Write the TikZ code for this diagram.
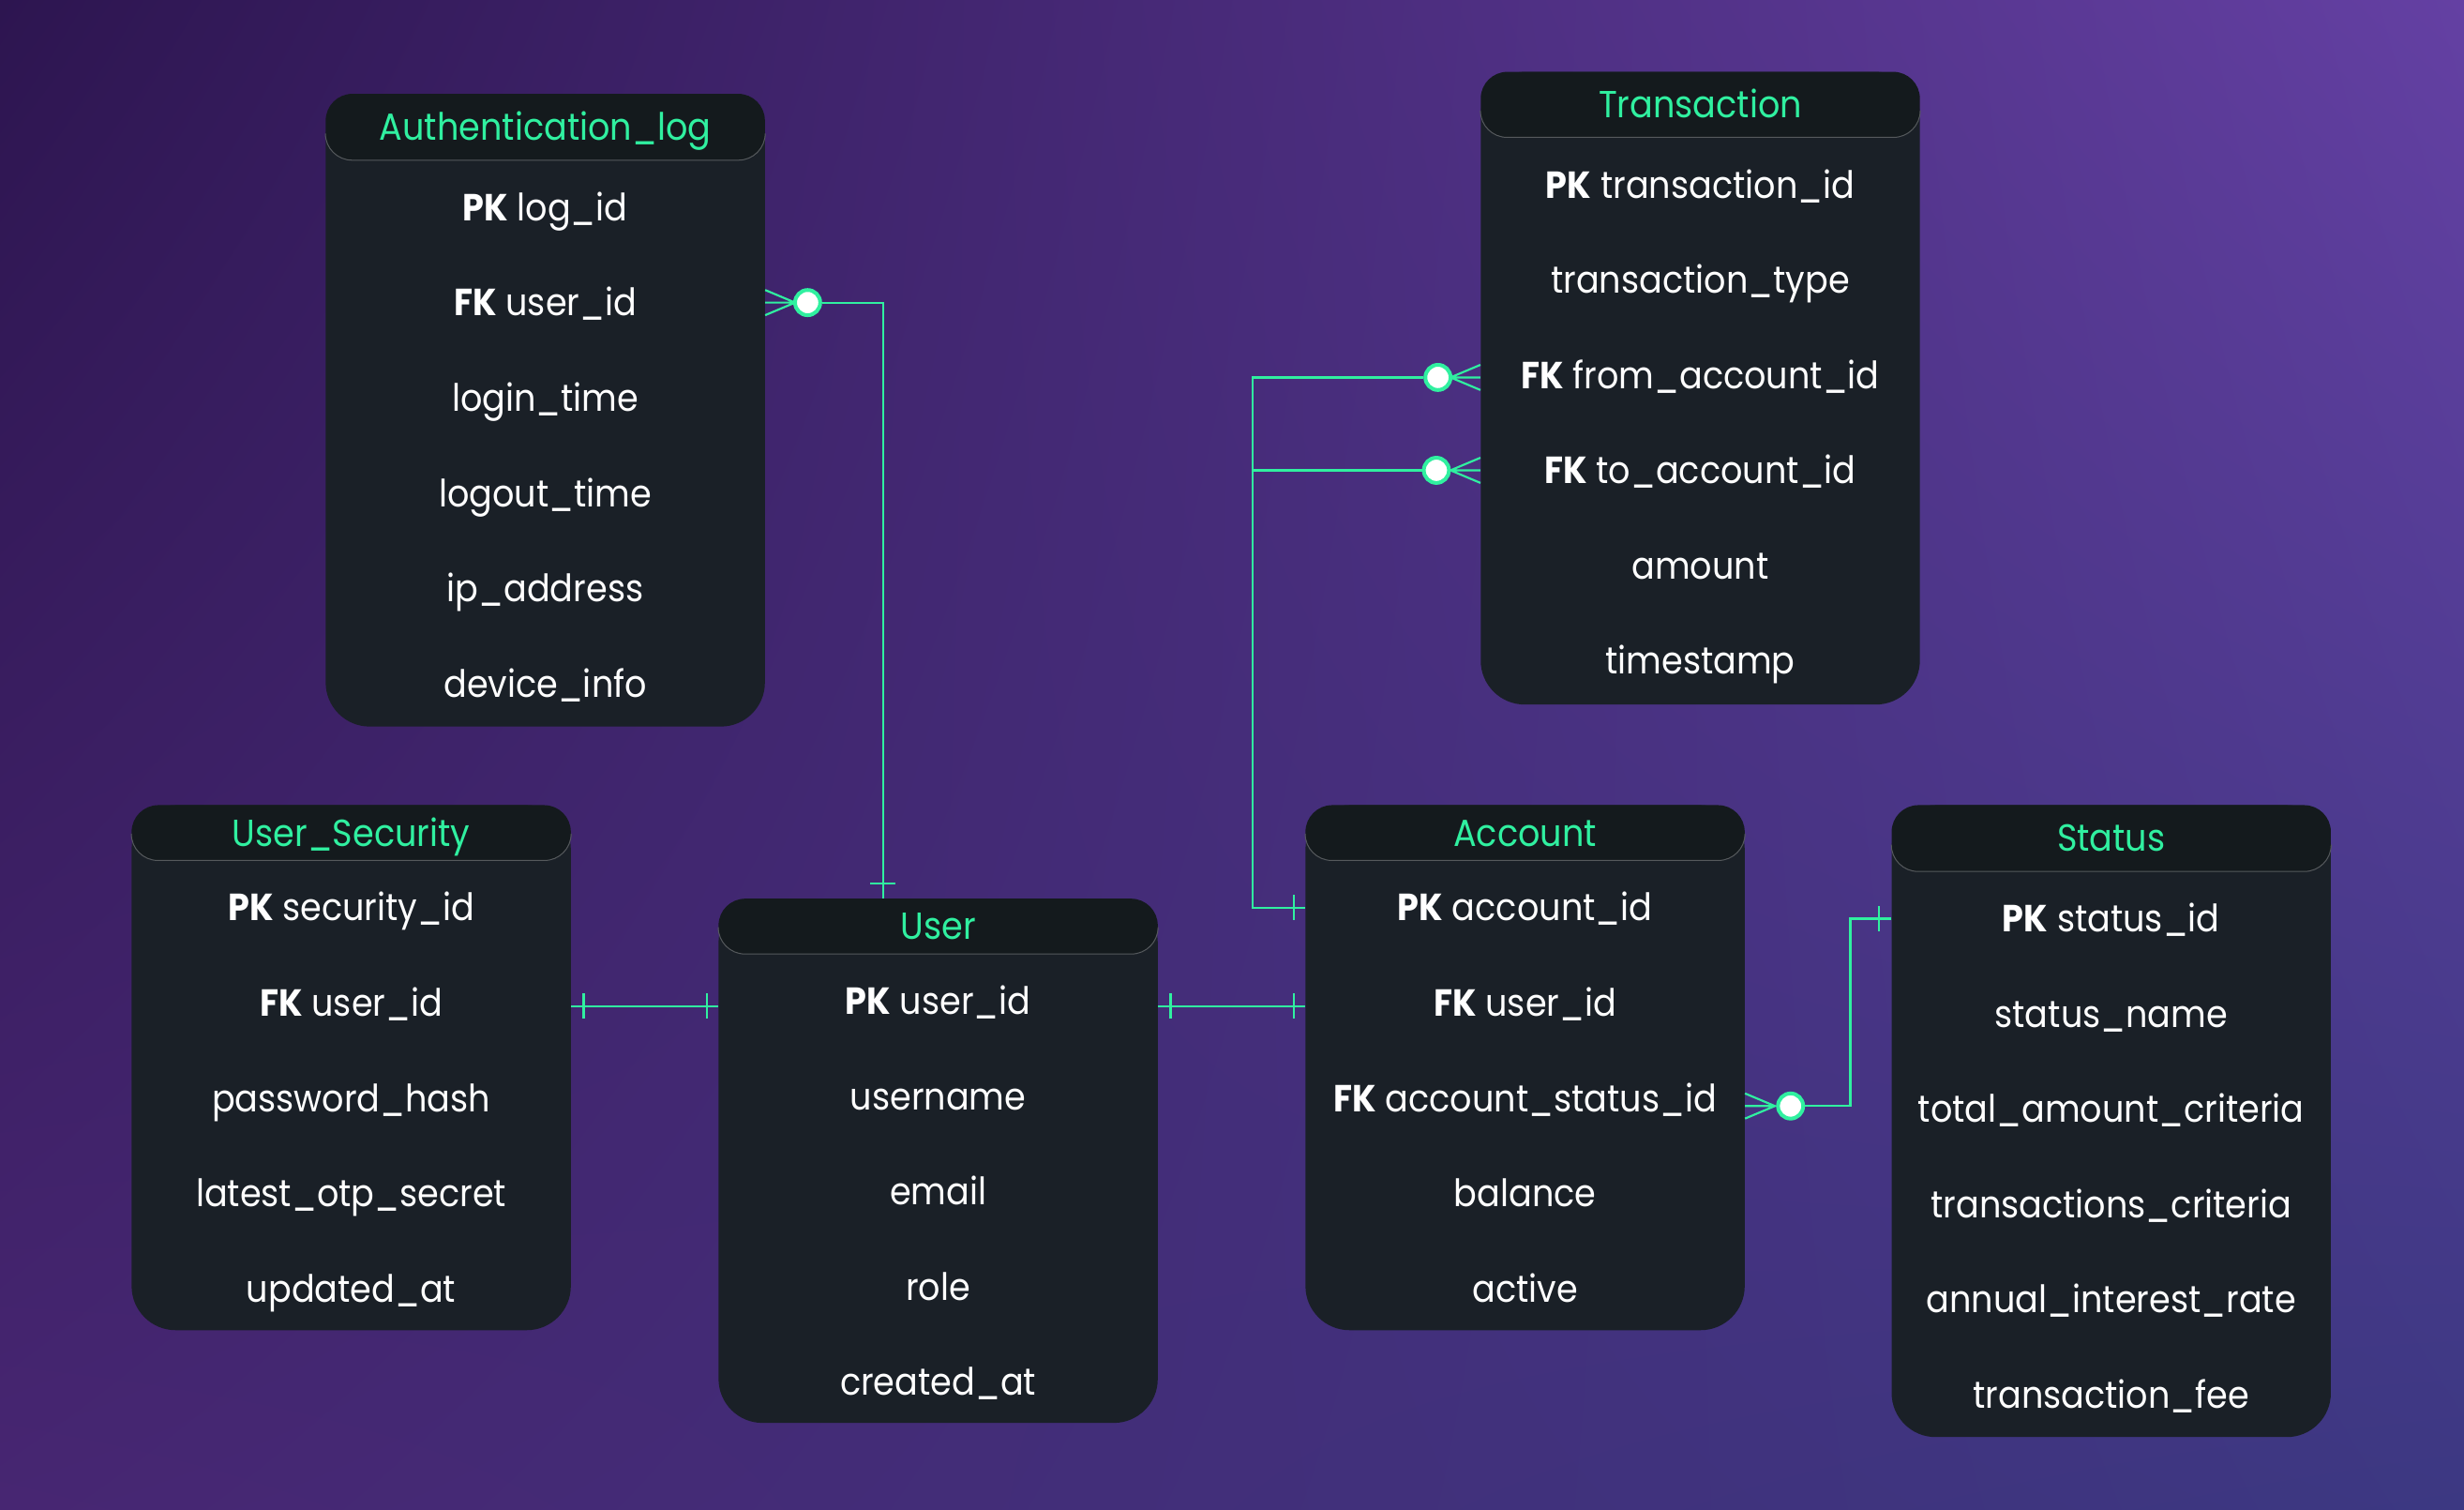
\documentclass[tikz,border=0pt]{standalone}
\usepackage{fontspec}
\setmainfont{Poppins}[FakeStretch=0.91]
\usetikzlibrary{positioning,calc,shadings}
\definecolor{mint}{HTML}{30F0A0}
\definecolor{bodyfill}{HTML}{1A2027}
\definecolor{headfill}{HTML}{141A1D}
\definecolor{headrule}{HTML}{55595C}
\definecolor{bgtl}{HTML}{2D1550}
\definecolor{bgtr}{HTML}{6440A3}
\definecolor{bgbl}{HTML}{472672}
\definecolor{bgbr}{HTML}{3C3882}
\newcommand{\erfont}{\fontsize{24pt}{28pt}\selectfont}
\tikzset{
    tbody/.style = {rectangle, fill=bodyfill, rounded corners=28pt,
        minimum width=279.5pt, inner sep=0pt, anchor=north},
    thead/.style = {rectangle, fill=headfill, rounded corners=17pt,
        minimum width=279.5pt, inner sep=0pt, anchor=north,
        text=mint, font=\erfont, text height=17pt, text depth=0pt},
    field/.style = {text=white, font=\erfont, inner sep=0pt,
        text height=17pt, text depth=0pt},
    link/.style = {draw=mint, line width=1.3pt},
    zero/.style = {circle, draw=mint, fill=white, line width=2.4pt,
        minimum size=16pt, inner sep=0pt},
    headline/.style = {draw=headrule, line width=0.6pt, rounded corners=17pt}
}
% crow's foot towards east / west, bar across a line
\def\crowE{++(0,8) -- ++(19,-8) -- ++(-19,-8) ++(0,8) -- ++(19,0)}
\def\crowW{++(0,8) -- ++(-19,-8) -- ++(19,-8) ++(0,8) -- ++(-19,0)}
\def\tickV{++(0,8) -- ++(0,-16)}
\def\tickH{++(-8,0) -- ++(16,0)}
% name, x centre, top, header height, body height, title, fields
\newcommand{\ertable}[7]{%
    \node [tbody, minimum height=#5pt] (#1-body) at (#2,-#3) {};
    \node [thead, minimum height=#4pt] (#1-head) at (#2,-#3) {#6};
    \draw [headline] ([yshift=17pt]#1-head.south west) -- (#1-head.south west)
        -- (#1-head.south east) -- ([yshift=17pt]#1-head.south east);
    \foreach \fld [count=\i, evaluate=\i as \dy using -30-(\i-1)*60.6] in {#7}{
        \node [field] (#1-\i) at ([yshift=\dy pt]#1-head.south) {\fld};
    }
}

\begin{document}
\begin{tikzpicture}[x=1pt, y=1pt]
    \useasboundingbox (0,0) rectangle (1568,-960.6);
    \shade [upper left=bgtl, upper right=bgtr, lower left=bgbl, lower right=bgbr]
        (0,0) rectangle (1568,-960.6);

    \ertable{auth}{347}{59.5}{42}{402.5}{Authentication\_log}
        {\textbf{PK} log\_id, \textbf{FK} user\_id, login\_time, logout\_time, ip\_address, device\_info}
    \ertable{trans}{1082}{45.5}{41.5}{402.5}{Transaction}
        {\textbf{PK} transaction\_id, transaction\_type, \textbf{FK} from\_account\_id, \textbf{FK} to\_account\_id, amount, timestamp}
    \ertable{sec}{223.5}{512}{35}{334}{User\_Security}
        {\textbf{PK} security\_id, \textbf{FK} user\_id, password\_hash, latest\_otp\_secret, updated\_at}
    \ertable{usr}{597}{571.5}{35}{333.5}{User}
        {\textbf{PK} user\_id, username, email, role, created\_at}
    \ertable{acc}{970.5}{512}{35}{334}{Account}
        {\textbf{PK} account\_id, \textbf{FK} user\_id, \textbf{FK} account\_status\_id, balance, active}
    \ertable{stat}{1343.5}{512}{42}{402}{Status}
        {\textbf{PK} status\_id, status\_name, total\_amount\_criteria, transactions\_criteria, annual\_interest\_rate, transaction\_fee}

    % Authentication_log -> User
    \coordinate (a2) at (auth-2 -| auth-body.east);
    \draw [link] (a2) \crowE;
    \node [zero] (z1) at ($(a2)+(27,0)$) {};
    \coordinate (j1) at ($(a2)+(75,0)$);
    \draw [link] (z1) -- (j1) -- (j1 |- usr-head.north);
    \draw [link] ($(j1 |- usr-head.north)+(0,9.5)$) \tickH;

    % User_Security -- User -- Account
    \coordinate (e2) at ($(sec-2 -| sec-body.east)+(0,-2)$);
    \coordinate (u1) at (e2 -| usr-body.west);
    \coordinate (u1e) at (e2 -| usr-body.east);
    \coordinate (a1w) at (e2 -| acc-body.west);
    \draw [link] (e2) -- (u1);
    \draw [link] ($(e2)+(8,0)$) \tickV;
    \draw [link] ($(u1)+(-7,0)$) \tickV;
    \draw [link] (u1e) -- (a1w);
    \draw [link] ($(u1e)+(8,0)$) \tickV;
    \draw [link] ($(a1w)+(-7,0)$) \tickV;

    % Transaction -> Account
    \coordinate (t3) at ($(trans-3 -| trans-body.west)+(0,-1.5)$);
    \coordinate (t4) at (trans-4 -| trans-body.west);
    \coordinate (a1) at (acc-1 -| acc-body.west);
    \draw [link] (t3) \crowW;
    \draw [link] (t4) \crowW;
    \node [zero] (z4) at ($(t3)+(-27,0)$) {};
    \node [zero] (z5) at ($(t4)+(-28,0)$) {};
    \coordinate (j4) at ($(t3)+(-145,0)$);
    \draw [link] (z4) -- (j4) |- (a1);
    \draw [link] (z5) -- (z5 -| j4);
    \draw [link] ($(a1)+(-7,0)$) \tickV;

    % Account -> Status
    \coordinate (a3) at ($(acc-3 -| acc-body.east)+(0,-5)$);
    \coordinate (s1) at (stat-1 -| stat-body.west);
    \draw [link] (a3) \crowE;
    \node [zero] (z6) at ($(a3)+(29,0)$) {};
    \coordinate (j6) at ($(a3)+(67,0)$);
    \draw [link] (z6) -- (j6) |- (s1);
    \draw [link] ($(s1)+(-8,0)$) \tickV;
\end{tikzpicture}
\end{document}
